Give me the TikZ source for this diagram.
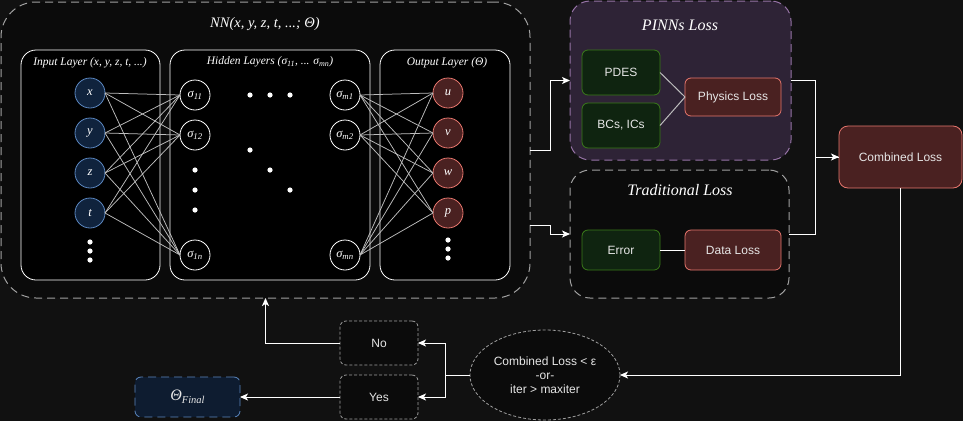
\documentclass[tikz,border=0pt]{standalone}
\usepackage{fontspec}
\setmainfont{Liberation Serif}
\setsansfont{Liberation Sans}
\usetikzlibrary{arrows.meta,calc,shapes.geometric}
\definecolor{bg}{HTML}{111111}
\definecolor{nnfill}{HTML}{0B0B0B}
\definecolor{dashgray}{HTML}{A0A0A0}
\definecolor{bluefill}{HTML}{10233D}
\definecolor{blueline}{HTML}{5B87C0}
\definecolor{redfill}{HTML}{4A2121}
\definecolor{redline}{HTML}{E8776E}
\definecolor{greenfill}{HTML}{0F2410}
\definecolor{greenline}{HTML}{3A7A1A}
\definecolor{purplefill}{HTML}{2E2336}
\definecolor{purpleline}{HTML}{9673A6}
\definecolor{finalfill}{HTML}{0E1C30}
\definecolor{txt}{HTML}{E6E6E6}
\definecolor{syncol}{HTML}{BDBDBD}
\begin{document}
\begin{tikzpicture}[x=1pt,y=-1pt,
  every node/.style={inner sep=0pt, outer sep=0pt},
  bigbox/.style={rectangle, draw=dashgray, line width=1pt, dash pattern=on 8pt off 5pt},
  layer/.style={rectangle, draw=white, fill=black, line width=0.8pt, rounded corners=15pt},
  ttl/.style={font=\itshape\fontsize{16}{18}\selectfont, text=white!92},
  lttl/.style={font=\itshape\fontsize{11.5}{13}\selectfont, text=white!92},
  neuron/.style={circle, minimum size=30pt, line width=0.8pt, font=\itshape\fontsize{12.5}{12}\selectfont, text=white!85},
  inneuron/.style={neuron, draw=blueline, fill=bluefill},
  hidneuron/.style={neuron, draw=white, fill=black},
  outneuron/.style={neuron, draw=redline, fill=redfill},
  syn/.style={draw=syncol, line width=0.75pt},
  sbox/.style={rectangle, rounded corners=6pt, line width=0.8pt, font=\sffamily\fontsize{12}{14}\selectfont, text=txt, align=center},
  gbox/.style={sbox, draw=greenline, fill=greenfill},
  rbox/.style={sbox, draw=redline, fill=redfill},
  dbox/.style={sbox, draw=dashgray, fill=nnfill, dash pattern=on 3pt off 2pt},
  arr/.style={draw=white, line width=1pt, -{Stealth[length=8pt,width=7pt,inset=2pt]}},
  ln/.style={draw=white, line width=1pt},
  gln/.style={draw=syncol, line width=1pt}
]
\fill[bg] (0,0) rectangle (963,421);
\useasboundingbox (0,0) rectangle (963,421);

% ---------- NN box ----------
\node[bigbox, fill=nnfill, rounded corners=35pt, minimum width=529pt, minimum height=296pt] (nn) at (265.5,150) {};
\node[ttl, font=\itshape\fontsize{14.5}{17}\selectfont] (nnt) at (265,24) {NN(x, y, z, t, ...; Θ)};

\node[layer, minimum width=139pt, minimum height=230pt] (inl) at (90.5,165) {};
\node[layer, minimum width=200pt, minimum height=230pt] (hid) at (270,165) {};
\node[layer, minimum width=130pt, minimum height=230pt] (outl) at (445,165) {};
\node[lttl] (inlt) at (90,63) {Input Layer (x, y, z, t, ...)};
\node[lttl] (hidt) at (270,62) {Hidden Layers (σ\textsubscript{11}, ... σ\textsubscript{mn})};
\node[lttl] (outlt) at (447,63) {Output Layer (Θ)};

% input neurons
\node[inneuron] (nx) at (90,93) {x};
\node[inneuron] (ny) at (90,133) {y};
\node[inneuron] (nz) at (90,173) {z};
\node[inneuron] (nt) at (90,213) {t};
% hidden neurons
\node[hidneuron] (h11) at (195,95) {σ\textsubscript{11}};
\node[hidneuron] (h12) at (195,135) {σ\textsubscript{12}};
\node[hidneuron] (h1n) at (195,255) {σ\textsubscript{1n}};
\node[hidneuron] (hm1) at (345,95) {σ\textsubscript{m1}};
\node[hidneuron] (hm2) at (345,135) {σ\textsubscript{m2}};
\node[hidneuron] (hmn) at (345,255) {σ\textsubscript{mn}};
% output neurons
\node[outneuron] (ou) at (448,93) {u};
\node[outneuron] (ov) at (448,133) {v};
\node[outneuron] (ow) at (448,173) {w};
\node[outneuron] (op) at (448,213) {p};

% dots
\foreach \y in {242,251,260} \fill[white] (90,\y) circle (2.6pt);
\foreach \y in {240,249,258} \fill[white] (448,\y) circle (2.6pt);
\foreach \x in {250,270,290} \fill[white] (\x,95) circle (2.6pt);
\foreach \y in {170,190,210} \fill[white] (195,\y) circle (2.6pt);
\fill[white] (250,150) circle (2.6pt);
\fill[white] (270,170) circle (2.6pt);
\fill[white] (290,190) circle (2.6pt);

% synapses
\foreach \a in {nx,ny,nz,nt} \foreach \b in {h11,h12,h1n} \draw[syn] (\a.east) -- (\b.west);
\foreach \a in {hm1,hm2,hmn} \foreach \b in {ou,ov,ow,op} \draw[syn] (\a.east) -- (\b.west);

% ---------- PINNs Loss ----------
\node[bigbox, draw=purpleline, fill=purplefill, rounded corners=20pt, minimum width=221pt, minimum height=159pt] (pinn) at (680.5,80.5) {};
\node[ttl] (pinnt) at (680,25) {PINNs Loss};
\node[gbox, minimum width=78pt, minimum height=45pt] (pdes) at (621,72.5) {PDES};
\node[gbox, minimum width=78pt, minimum height=45pt] (bcs) at (621,125.5) {BCs, ICs};
\node[rbox, minimum width=96pt, minimum height=38pt] (phys) at (733,97) {Physics Loss};
\draw[gln] (pdes.east) -- (phys.west);
\draw[gln] (bcs.east) -- (phys.west);

% ---------- Traditional Loss ----------
\node[bigbox, fill=nnfill, rounded corners=20pt, minimum width=219pt, minimum height=128pt] (trad) at (679.5,234) {};
\node[ttl] (tradt) at (680,190) {Traditional Loss};
\node[gbox, minimum width=78pt, minimum height=40pt] (err) at (621,250) {Error};
\node[rbox, minimum width=96pt, minimum height=40pt] (data) at (733,250) {Data Loss};
\draw[ln] (err.east) -- (data.west);

% ---------- Combined ----------
\node[rbox, rounded corners=9pt, minimum width=123pt, minimum height=62pt] (comb) at (900.5,157) {Combined Loss};

% ---------- decision ----------
\node[ellipse, draw=dashgray, fill=nnfill, dash pattern=on 3pt off 2pt, line width=0.8pt, minimum width=150pt, minimum height=90pt,
      font=\sffamily\fontsize{12}{14}\selectfont, text=txt, align=center] (ell) at (545,375)
      {Combined Loss < ε\\-or-\\iter > maxiter};
\node[dbox, minimum width=78pt, minimum height=44pt] (no) at (379,343) {No};
\node[dbox, minimum width=78pt, minimum height=44pt] (yes) at (379,397) {Yes};
\node[sbox, draw=blueline, fill=finalfill, dash pattern=on 8pt off 5pt, minimum width=105pt, minimum height=40pt,
      font=\fontsize{16}{18}\selectfont] (final) at (187.5,397) {\textit{Θ}\textit{\fontsize{10.5}{12}\selectfont\raisebox{-3pt}{Final}}};

% ---------- connectors ----------
\draw[arr] (nn.east) -- ++(20,0) |- (pinn.west);
\draw[arr] ([yshift=-75pt]nn.east) -- ++(20,0) |- (trad.west);
\draw[ln] (pinn.east) -- ++(24,0) |- (comb.west);
\draw[arr] (trad.east) -- ++(26,0) |- (comb.west);
\draw[arr] (comb.south) |- (ell.east);
\draw[arr] (ell.west) -- ++(-25,0) |- (no.east);
\draw[arr] (ell.west) -- ++(-25,0) |- (yes.east);
\draw[arr] (no.west) -| (nn.south);
\draw[arr] (yes.west) -- (final.east);
\end{tikzpicture}
\end{document}
